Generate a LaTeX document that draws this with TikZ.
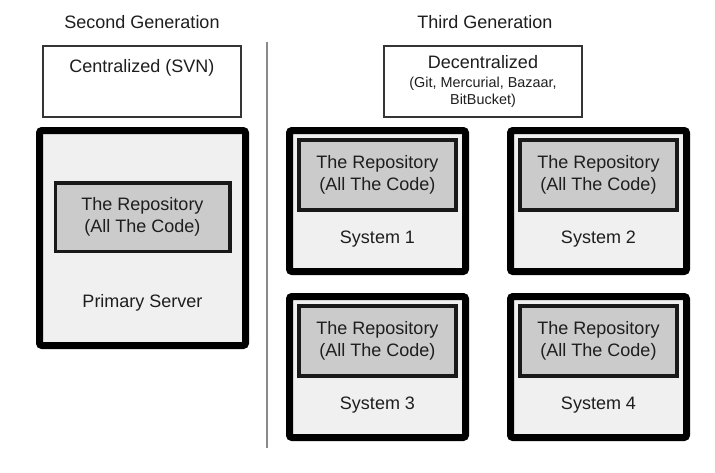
\documentclass[tikz,border=0pt]{standalone}
\usepackage{fontspec}
\setmainfont{Liberation Sans}
\usepackage{xcolor}
\usepackage{tikz}
\usetikzlibrary{positioning}

\definecolor{machinefill}{HTML}{F0F0F0}
\definecolor{repofill}{HTML}{CBCBCB}
\definecolor{ink}{HTML}{1E1E1E}
\definecolor{rulegray}{HTML}{8A8A8A}
\newcommand{\bigfont}{\fontsize{18}{22}\selectfont}
\newcommand{\smallfont}{\fontsize{14.4}{17}\selectfont}

\begin{document}
\begin{tikzpicture}
      [ x=1pt, y=-1pt,
        every node/.style={font=\bigfont, text=ink},
        heading/.style={inner sep=0pt},
        kindbox/.style={draw=ink!90, line width=1.5pt, fill=white, inner sep=0pt,
                        minimum width=198pt, minimum height=71pt, align=center},
        machine/.style={draw=black, line width=7pt, rounded corners=2.5pt,
                        fill=machinefill, inner sep=0pt,
                        minimum width=176pt, minimum height=141pt},
        repo/.style={draw=black!90, line width=3.5pt, fill=repofill, inner sep=0pt,
                     minimum width=157pt, minimum height=70pt, align=center}
      ]
      \fill[white] (0,0) rectangle (715,472);
      \useasboundingbox (0,0) rectangle (715,472);

      % headings
      \node[heading]  (second)  at (142,22)   {Second Generation};
      \node[heading]  (third)   at (485,22)   {Third Generation};

      % kind of version control
      \node[kindbox]  (central)    at (142,81.5) {};
      \node[heading]  (centraltext) [below=14.5pt of central.north] {Centralized (SVN)};
      \node[kindbox]  (decentral)  at (483,81.5)
            {Decentralized\\[-3pt]{\smallfont (Git, Mercurial, Bazaar,}\\[-5pt]{\smallfont BitBucket)}};

      % second generation
      \node[machine, minimum width=206pt, minimum height=215pt] (primary) at (142.5,238) {};
      \node[repo, minimum width=174.5pt, minimum height=68.5pt] (primaryrepo)
            [below=54pt of primary.north] {The Repository\\(All The Code)};
      \node (primarylabel) at (primary.south) [yshift=46pt] {Primary Server};

      % third generation
      \node[machine]  (sys1)  at (377.5,201)        {};
      \node[machine]  (sys2)  [right=38pt of sys1]  {};
      \node[machine]  (sys3)  [below=18pt of sys1]  {};
      \node[machine]  (sys4)  [below=18pt of sys2]  {};
      \foreach \n in {1,...,4} {
        \node[repo] (repo\n) [below=11pt of sys\n.north] {The Repository\\(All The Code)};
        \node (syslabel\n) at (sys\n.south) [yshift=36pt] {System \n};
      }

      % divider
      \coordinate (ruletop)    at (267,42);
      \coordinate (rulebottom) at (267,448);
      \draw[rulegray, line width=1.3pt] (ruletop) -- (rulebottom);
\end{tikzpicture}
\end{document}
